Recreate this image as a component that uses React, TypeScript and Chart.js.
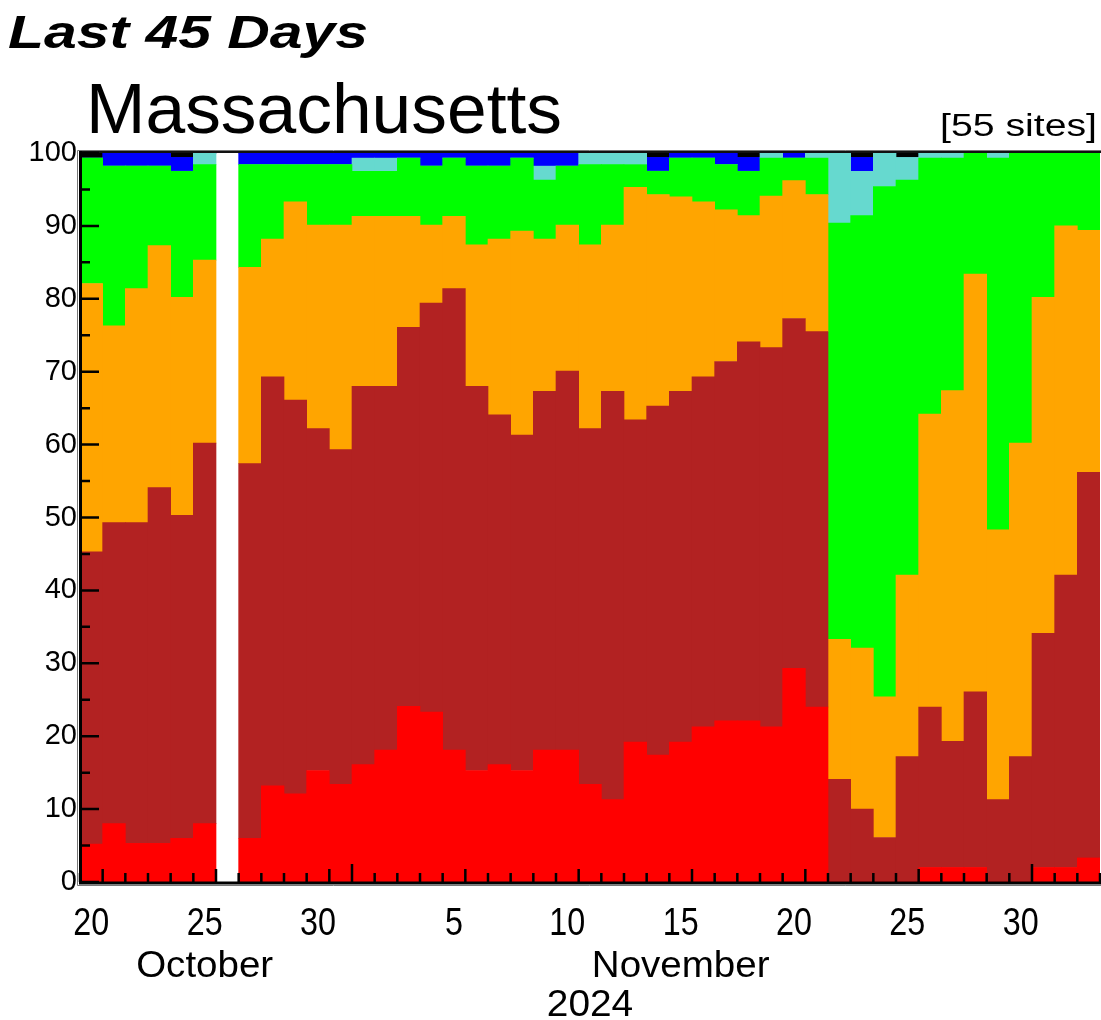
import React, { useEffect, useRef } from 'react';
import { Chart, registerables } from 'chart.js';

Chart.register(...registerables);

// ---------- DATA ----------
const days = [20, 21, 22, 23, 24, 25, 26, 27, 28, 29, 30, 31,
  1, 2, 3, 4, 5, 6, 7, 8, 9, 10, 11, 12, 13, 14, 15, 16, 17, 18, 19, 20, 21, 22, 23, 24, 25, 26, 27, 28, 29, 30,
  1, 2, 3];
const months = [
  ...Array(12).fill('October'),
  ...Array(30).fill('November'),
  ...Array(3).fill('December'),
];
const yearLabel = '2024';
const titleTop = 'Last 45 Days';
const titleMain = 'Massachusetts';
const siteNote = '[55 sites]';

// percent of sites in each class (bottom to top); null = no data that day
const low = [5.2, 8.0, 5.3, 5.3, 6.0, 8.0, null, 6.0, 13.2, 12.1, 15.3, 13.4, 16.1, 18.1, 24.1, 23.3, 18.1, 15.3, 16.1, 15.3, 18.1, 18.1, 13.4, 11.3, 19.2, 17.4, 19.2, 21.3, 22.1, 22.1, 21.3, 29.3, 24.0, 0, 0, 0, 0, 2.0, 2.0, 2.0, 0, 0, 2.0, 2.0, 3.3];
const muchBelow = [40.1, 41.3, 44.0, 48.8, 44.3, 52.2, null, 51.4, 56.1, 54.0, 46.9, 45.9, 51.9, 49.9, 52.0, 56.1, 63.3, 52.7, 48.0, 46.0, 49.2, 52.0, 48.8, 56.0, 44.2, 47.9, 48.1, 48.0, 49.3, 52.0, 52.0, 48.0, 51.5, 14.1, 10.0, 6.1, 17.2, 22.0, 17.3, 24.1, 11.3, 17.2, 32.1, 40.1, 52.9];
const below = [36.8, 27.0, 32.1, 33.2, 29.9, 25.1, null, 26.9, 18.9, 27.2, 27.9, 30.8, 23.3, 23.3, 15.2, 10.7, 9.9, 19.4, 24.1, 28.0, 20.9, 20.0, 25.2, 22.8, 31.9, 29.0, 26.7, 24.0, 20.8, 17.3, 20.8, 18.9, 18.8, 19.2, 22.1, 19.3, 24.9, 40.2, 48.1, 57.3, 37.0, 43.0, 46.1, 47.9, 33.2];
const normal = [17.2, 21.9, 16.8, 10.9, 17.3, 13.1, null, 14.1, 10.2, 5.1, 8.3, 8.3, 6.2, 6.2, 8.0, 8.1, 8.0, 10.8, 10.0, 10.0, 8.1, 8.1, 11.0, 8.3, 3.1, 3.2, 5.3, 6.0, 6.2, 6.1, 5.2, 3.1, 5.0, 57.1, 59.3, 70.0, 54.2, 35.1, 31.9, 16.6, 51.0, 39.8, 19.8, 10.0, 10.6];
const above = [0, 0, 0, 0, 0, 1.6, null, 0, 0, 0, 0, 0, 1.8, 1.8, 0, 0, 0, 0, 0, 0, 1.9, 0, 1.6, 1.6, 1.6, 0, 0, 0, 0, 0, 0.7, 0, 0.7, 9.6, 6.1, 4.6, 3.1, 0.7, 0.7, 0, 0.7, 0, 0, 0, 0];
const muchAbove = [0, 1.8, 1.8, 1.8, 1.9, 0, null, 1.6, 1.6, 1.6, 1.6, 1.6, 0.7, 0.7, 0.7, 1.8, 0.7, 1.8, 1.8, 0.7, 1.8, 1.8, 0, 0, 0, 1.9, 0.7, 0.7, 1.6, 1.9, 0, 0.7, 0, 0, 1.9, 0, 0, 0, 0, 0, 0, 0, 0, 0, 0];
const high = [0.7, 0, 0, 0, 0.6, 0, null, 0, 0, 0, 0, 0, 0, 0, 0, 0, 0, 0, 0, 0, 0, 0, 0, 0, 0, 0.6, 0, 0, 0, 0.6, 0, 0, 0, 0, 0.6, 0, 0.6, 0, 0, 0, 0, 0, 0, 0, 0];

const yTicks = [0, 10, 20, 30, 40, 50, 60, 70, 80, 90, 100];

const FONT = "'Liberation Sans', Arial, Helvetica, sans-serif";

function drawText(ctx: CanvasRenderingContext2D, text: string, x: number, y: number, font: string,
  align: 'left' | 'center' | 'right', opts: { width?: number; scale?: number } = {}) {
  ctx.save();
  ctx.font = font;
  const w = ctx.measureText(text).width;
  const s = opts.width ? opts.width / w : (opts.scale ?? 1);
  const x0 = align === 'left' ? x : align === 'center' ? x - (w * s) / 2 : x - w * s;
  ctx.translate(x0, y);
  ctx.scale(s, 1);
  ctx.textAlign = 'left';
  ctx.textBaseline = 'alphabetic';
  ctx.fillStyle = '#000';
  ctx.fillText(text, 0, 0);
  ctx.restore();
}

const decorPlugin = {
  id: 'decor',
  afterDatasetsDraw(chart: any) {
    const ctx: CanvasRenderingContext2D = chart.ctx;
    const { left, right, top, bottom } = chart.chartArea;
    const xs = chart.scales.x;
    const ys = chart.scales.y;
    const step = xs.getPixelForValue(1) - xs.getPixelForValue(0);

    ctx.save();
    // frame
    ctx.strokeStyle = '#777';
    ctx.lineWidth = 1;
    ctx.beginPath();
    ctx.moveTo(left - 2.5, bottom + 3.5);
    ctx.lineTo(left - 2.5, top - 2.5);
    ctx.lineTo(right + 1, top - 2.5);
    ctx.moveTo(left - 2.5, bottom + 3.5);
    ctx.lineTo(right + 1, bottom + 3.5);
    ctx.stroke();
    ctx.strokeStyle = '#111';
    ctx.lineWidth = 2;
    ctx.beginPath();
    ctx.moveTo(left - 1, top - 1);
    ctx.lineTo(right + 1, top - 1);
    ctx.stroke();
    ctx.strokeStyle = '#000';
    ctx.lineWidth = 3;
    ctx.beginPath();
    ctx.moveTo(left + 0.5, top - 2);
    ctx.lineTo(left + 0.5, bottom + 2);
    ctx.moveTo(left - 1, bottom + 1);
    ctx.lineTo(right + 1, bottom + 1);
    ctx.stroke();

    // y ticks (inside)
    ctx.lineWidth = 2.5;
    ctx.beginPath();
    for (let v = 0; v <= 100; v += 5) {
      const y = ys.getPixelForValue(v);
      const len = v % 10 === 0 ? 19 : 10;
      ctx.moveTo(left, y);
      ctx.lineTo(left + len, y);
    }
    ctx.stroke();

    // x ticks (inside, at day boundaries)
    ctx.beginPath();
    for (let i = 0; i <= days.length; i++) {
      const x = i < days.length ? xs.getPixelForValue(i) - step / 2 : xs.getPixelForValue(i - 1) + step / 2;
      let len = 9;
      if (i > 0 && i < days.length && months[i] !== months[i - 1]) len = 18;
      else if (i > 0 && days[i - 1] % 5 === 0) len = 13;
      ctx.moveTo(x, bottom);
      ctx.lineTo(x, bottom - len);
    }
    ctx.stroke();
    ctx.restore();

    // x tick labels
    days.forEach((d, i) => {
      if (d % 5 === 0) {
        drawText(ctx, String(d), xs.getPixelForValue(i), 935, `38px ${FONT}`, 'center', { scale: 0.85 });
      }
    });

    // month labels
    const groups: { name: string; first: number; last: number }[] = [];
    months.forEach((m, i) => {
      const g = groups[groups.length - 1];
      if (g && g.name === m) g.last = i;
      else groups.push({ name: m, first: i, last: i });
    });
    groups.forEach((g) => {
      if (g.last - g.first + 1 >= 10) {
        const idx = (g.first + g.last) / 2 - 0.5;
        const x = xs.getPixelForValue(Math.floor(idx)) + (idx - Math.floor(idx)) * step;
        drawText(ctx, g.name, x, 977, `36px ${FONT}`, 'center', { scale: 1.07 });
      }
    });
    drawText(ctx, yearLabel, (left + right) / 2, 1016, `37px ${FONT}`, 'center', { scale: 1.05 });

    // titles
    drawText(ctx, titleTop, 8, 48, `italic bold 47px ${FONT}`, 'left', { width: 360 });
    drawText(ctx, titleMain, 86, 133, `70px ${FONT}`, 'left', { width: 476 });
    drawText(ctx, siteNote, 1097, 136, `31px ${FONT}`, 'right', { width: 157 });
  },
};

export default function App() {
  const ref = useRef<HTMLCanvasElement | null>(null);
  useEffect(() => {
    if (!ref.current) return;
    const mk = (label: string, data: (number | null)[], color: string) => ({
      label, data, backgroundColor: color, borderWidth: 0,
      barPercentage: 1, categoryPercentage: 1, stack: 's',
    });
    const chart = new Chart(ref.current, {
      type: 'bar',
      data: {
        labels: days.map((d, i) => `${months[i]} ${d}`),
        datasets: [
          mk('Low', low, '#FF0000'),
          mk('Much below normal', muchBelow, '#B22222'),
          mk('Below normal', below, '#FFA500'),
          mk('Normal', normal, '#00FF00'),
          mk('Above normal', above, '#66D9CF'),
          mk('Much above normal', muchAbove, '#0000FF'),
          mk('High', high, '#000000'),
        ],
      },
      options: {
        animation: false,
        responsive: false,
        devicePixelRatio: 1,
        layout: { padding: { top: 153, right: 1, left: 0, bottom: 0 } },
        plugins: { legend: { display: false }, title: { display: false }, tooltip: { enabled: false } },
        scales: {
          x: {
            stacked: true, offset: true,
            grid: { display: false, drawTicks: false }, border: { display: false },
            ticks: { display: false },
            afterFit: (s: any) => { s.height = 138; },
          },
          y: {
            stacked: true, min: 0, max: 100,
            grid: { display: false, drawTicks: false }, border: { display: false },
            afterBuildTicks: (s: any) => { s.ticks = yTicks.map((v) => ({ value: v })); },
            ticks: { padding: 3, color: '#000', font: { family: FONT, size: 29 } },
            afterFit: (s: any) => { s.width = 80; },
          },
        },
      },
      plugins: [decorPlugin],
    });
    return () => chart.destroy();
  }, []);
  return (
    <div style={{ position: 'absolute', left: 0, top: 0, width: 1101, height: 1020, background: '#fff' }}>
      <canvas ref={ref} width={1101} height={1020} style={{ width: 1101, height: 1020, display: 'block' }} />
    </div>
  );
}
